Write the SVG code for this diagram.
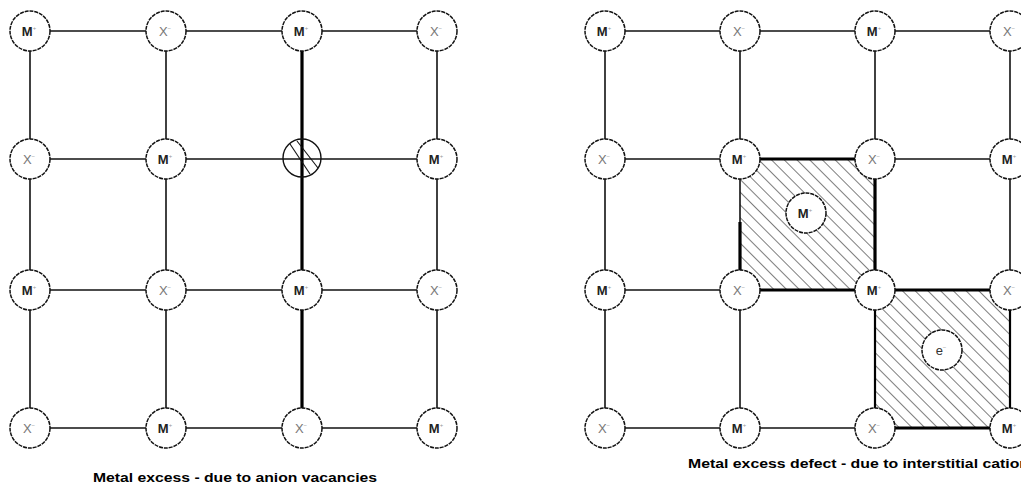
<svg xmlns="http://www.w3.org/2000/svg" width="1021" height="487" viewBox="0 0 1021 487">
  <style>
    .bond { stroke: #111; stroke-width: 1.6; fill: none; }
    .heavy { stroke: #000; stroke-width: 3.2; fill: none; }
    .edge { stroke: #000; stroke-width: 2.2; fill: none; }
    .ion { fill: #fff; stroke: #111; stroke-width: 1.5; stroke-dasharray: 4 0.9; }
    .m { font-family: "Liberation Sans", Arial, sans-serif; font-size: 13px; font-weight: bold; fill: #222; text-anchor: middle; }
    .x { font-family: "Liberation Sans", Arial, sans-serif; font-size: 13px; fill: #777; text-anchor: middle; }
    .sup { font-size: 6px; font-weight: normal; fill: #999; }
    .caption { font-family: "Liberation Sans", Arial, sans-serif; font-size: 12px; font-weight: bold; fill: #000; }
  </style>
  <defs>
    <pattern id="hatch" width="9" height="9" patternUnits="userSpaceOnUse" patternTransform="rotate(-45)">
      <line x1="0" y1="0" x2="0" y2="9" stroke="#111" stroke-width="1.1"/>
    </pattern>
    <g id="cM"><circle class="ion" r="20"/><text class="m" x="-1" y="5">M<tspan class="sup" dy="-6">+</tspan></text></g>
    <g id="cX"><circle class="ion" r="20"/><text class="x" x="-1" y="5">X<tspan class="sup" dy="-6">−</tspan></text></g>
  </defs>
  <rect width="1021" height="487" fill="#fff"/>

  <!-- left lattice: anion vacancy -->
  <g id="connectors-left">
    <line class="bond" x1="30" y1="31" x2="437" y2="31"/>
    <line class="bond" x1="30" y1="159" x2="437" y2="159"/>
    <line class="bond" x1="30" y1="290" x2="437" y2="290"/>
    <line class="bond" x1="30" y1="428" x2="437" y2="428"/>
    <line class="bond" x1="30" y1="31" x2="30" y2="428"/>
    <line class="bond" x1="166" y1="31" x2="166" y2="428"/>
    <line class="heavy" x1="302" y1="31" x2="302" y2="428"/>
    <line class="bond" x1="437" y1="31" x2="437" y2="428"/>
  </g>
  <g id="left-r1"><use href="#cM" x="30" y="31"/><use href="#cX" x="166" y="31"/><use href="#cM" x="302" y="31"/><use href="#cX" x="437" y="31"/></g>
  <g id="left-r2"><use href="#cX" x="30" y="159"/><use href="#cM" x="166" y="159"/><use href="#cM" x="437" y="159"/></g>
  <g id="vacancy">
    <circle cx="302" cy="158" r="19" fill="none" stroke="#111" stroke-width="1.4"/>
    <line x1="290" y1="144" x2="310" y2="174" stroke="#111" stroke-width="1.1"/>
    <line x1="297" y1="141" x2="318" y2="168" stroke="#111" stroke-width="1.1"/>
  </g>
  <g id="left-r3"><use href="#cM" x="30" y="290"/><use href="#cX" x="166" y="290"/><use href="#cM" x="302" y="290"/><use href="#cX" x="437" y="290"/></g>
  <g id="left-r4"><use href="#cX" x="30" y="428"/><use href="#cM" x="166" y="428"/><use href="#cX" x="302" y="428"/><use href="#cM" x="437" y="428"/></g>
  <text id="caption-left" class="caption" x="93" y="482" textLength="284" lengthAdjust="spacingAndGlyphs">Metal excess - due to anion vacancies</text>

  <!-- right lattice: interstitial cation and trapped electron -->
  <g id="cells">
    <rect x="740" y="159" width="135" height="131" fill="url(#hatch)"/>
    <rect x="875" y="290" width="135" height="138" fill="url(#hatch)"/>
  </g>
  <g id="connectors-right">
    <line class="bond" x1="605" y1="31" x2="1010" y2="31"/>
    <line class="bond" x1="605" y1="159" x2="1010" y2="159"/>
    <line class="bond" x1="605" y1="290" x2="1010" y2="290"/>
    <line class="bond" x1="605" y1="428" x2="1010" y2="428"/>
    <line class="bond" x1="605" y1="31" x2="605" y2="428"/>
    <line class="bond" x1="740" y1="31" x2="740" y2="428"/>
    <line class="bond" x1="875" y1="31" x2="875" y2="428"/>
    <line class="bond" x1="1010" y1="31" x2="1010" y2="428"/>
    <line class="heavy" x1="740" y1="159" x2="875" y2="159"/>
    <line class="heavy" x1="740" y1="290" x2="875" y2="290"/>
    <line class="heavy" x1="875" y1="159" x2="875" y2="290"/>
    <line class="heavy" x1="740" y1="222" x2="740" y2="285"/>
    <line class="heavy" x1="875" y1="290" x2="1010" y2="290"/>
    <line class="heavy" x1="875" y1="428" x2="1010" y2="428"/>
    <line class="edge" x1="875" y1="290" x2="875" y2="428"/>
    <line class="edge" x1="1010" y1="290" x2="1010" y2="428"/>
  </g>
  <g id="right-r1"><use href="#cM" x="605" y="31"/><use href="#cX" x="740" y="31"/><use href="#cM" x="875" y="31"/><use href="#cX" x="1010" y="31"/></g>
  <g id="right-r2"><use href="#cX" x="605" y="159"/><use href="#cM" x="740" y="159"/><use href="#cX" x="875" y="159"/><use href="#cM" x="1010" y="159"/></g>
  <g id="right-r3"><use href="#cM" x="605" y="290"/><use href="#cX" x="740" y="290"/><use href="#cM" x="875" y="290"/><use href="#cX" x="1010" y="290"/></g>
  <g id="right-r4"><use href="#cX" x="605" y="428"/><use href="#cM" x="740" y="428"/><use href="#cX" x="875" y="428"/><use href="#cM" x="1010" y="428"/></g>
  <g id="interstitial"><use href="#cM" x="806" y="213"/></g>
  <g id="electron"><circle class="ion" cx="942" cy="350" r="20"/><text class="x" x="941" y="355" style="fill:#333">e<tspan class="sup" dy="-6">−</tspan></text></g>
  <text id="caption-right" class="caption" x="688" y="468" textLength="341" lengthAdjust="spacingAndGlyphs">Metal excess defect - due to interstitial cation</text>
</svg>
